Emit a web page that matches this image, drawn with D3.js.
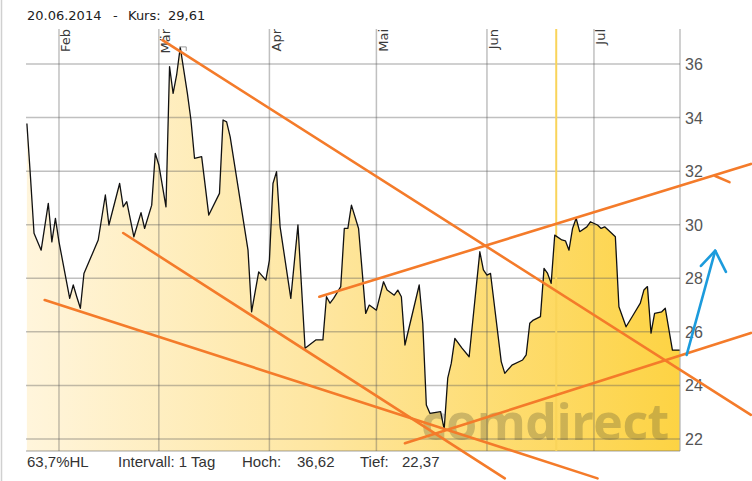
<!DOCTYPE html>
<html><head><meta charset="utf-8">
<script src="https://cdn.jsdelivr.net/npm/d3@7"></script>
<style>
body{margin:0;background:#fff}
svg{display:block}
</style></head><body>
<svg id="c" width="752" height="481"></svg>
<script>
// ---- data ----
const dates = ["2014-01-23","2014-01-24","2014-01-25","2014-01-27","2014-01-29","2014-01-30","2014-01-31","2014-02-01","2014-02-04","2014-02-05","2014-02-06","2014-02-07","2014-02-08","2014-02-10","2014-02-12","2014-02-14","2014-02-15","2014-02-18","2014-02-19","2014-02-20","2014-02-22","2014-02-24","2014-02-25","2014-02-27","2014-02-28","2014-03-01","2014-03-03","2014-03-04","2014-03-05","2014-03-06","2014-03-07","2014-03-09","2014-03-10","2014-03-11","2014-03-13","2014-03-15","2014-03-18","2014-03-19","2014-03-20","2014-03-21","2014-03-26","2014-03-27","2014-03-29","2014-03-31","2014-04-01","2014-04-02","2014-04-03","2014-04-04","2014-04-07","2014-04-09","2014-04-11","2014-04-14","2014-04-16","2014-04-17","2014-04-18","2014-04-19","2014-04-21","2014-04-22","2014-04-23","2014-04-24","2014-04-26","2014-04-28","2014-04-29","2014-05-01","2014-05-03","2014-05-04","2014-05-06","2014-05-07","2014-05-08","2014-05-09","2014-05-13","2014-05-14","2014-05-15","2014-05-16","2014-05-19","2014-05-20","2014-05-21","2014-05-22","2014-05-23","2014-05-25","2014-05-27","2014-05-29","2014-05-30","2014-05-31","2014-06-01","2014-06-02","2014-06-05","2014-06-06","2014-06-08","2014-06-11","2014-06-12","2014-06-13","2014-06-14","2014-06-16","2014-06-17","2014-06-18","2014-06-19","2014-06-20","2014-06-22","2014-06-23","2014-06-24","2014-06-25","2014-06-26","2014-06-27","2014-06-29","2014-06-30","2014-07-02","2014-07-03","2014-07-04","2014-07-05","2014-07-07","2014-07-08","2014-07-10","2014-07-12","2014-07-14","2014-07-15","2014-07-16","2014-07-17","2014-07-18","2014-07-20","2014-07-21","2014-07-23","2014-07-25"];
const prices = [33.78,31.79,29.68,29.05,30.80,29.36,30.24,29.36,27.25,27.75,27.30,26.88,28.18,28.80,29.43,31.11,29.99,31.54,30.67,30.86,29.55,30.45,29.86,30.73,32.66,32.23,30.67,35.90,34.90,35.60,36.62,34.90,33.91,32.48,32.54,30.36,31.17,33.91,33.84,33.28,29.05,26.75,28.24,27.93,28.68,31.54,31.98,29.92,27.25,29.99,25.39,25.70,25.70,27.31,27.07,27.25,27.69,29.86,29.86,30.73,29.86,26.69,27.00,26.81,27.87,27.56,27.37,27.56,27.31,25.51,27.75,26.32,23.27,22.96,23.02,22.37,24.27,24.83,25.76,25.39,25.07,27.69,28.99,28.31,28.12,28.18,24.89,24.45,24.76,24.95,25.14,26.32,26.44,26.57,28.37,28.18,27.81,29.61,29.43,29.40,29.05,29.86,30.24,29.74,29.92,30.11,29.99,29.86,29.92,29.80,29.55,26.94,26.19,26.63,27.07,27.56,27.69,25.95,26.69,26.75,26.88,25.32,25.32];
const monthTicks = ["2014-02-01","2014-03-01","2014-04-01","2014-05-01","2014-06-01","2014-07-01"];
const monthLabels = ["Feb","Mär","Apr","Mai","Jun","Jul"];
const yTicks = [22,24,26,28,30,32,34,36];
const markerDate = "2014-06-20";
const intervalLabel = "Intervall: 1 Tag";
// hand-drawn annotations, in data coordinates [date, value]
const orangeLines = [
  [["2014-03-02",36.89],["2014-08-14",22.90]],
  [["2014-04-15",27.31],["2014-08-14",32.27]],
  [["2014-08-04",31.82],["2014-08-08",31.59]],
  [["2014-05-09",21.84],["2014-08-14",25.96]],
  [["2014-02-19",29.69],["2014-06-06",20.53]],
  [["2014-01-28",27.19],["2014-07-02",20.53]]
];
const blueArrow = [["2014-07-27",25.14],["2014-08-04",29.03]];
const blueHead = [["2014-07-31",28.46],["2014-08-04",29.03],["2014-08-07",28.24]];

// ---- drawing ----
const parse = d3.timeParse("%Y-%m-%d");
const data = dates.map((d,i)=>({date:parse(d), v:prices[i]}));
const L = 26, R = 680, T = 29, B = 451;
const x = d3.scaleTime().domain([new Date(2014,0,22,18), new Date(2014,6,25,3)]).range([L, R]);
const y = d3.scaleLinear().domain([22,36]).range([439,64]);
const fmt = v => d3.format(".2f")(v).replace(".", ",");

const svg = d3.select("#c");
const defs = svg.append("defs");
const grad = defs.append("linearGradient").attr("id","g").attr("gradientUnits","userSpaceOnUse")
  .attr("x1",L).attr("x2",R).attr("y1",0).attr("y2",0);
grad.append("stop").attr("offset",0).attr("stop-color","#fff5dc");
grad.append("stop").attr("offset",0.45).attr("stop-color","#fee6a0");
grad.append("stop").attr("offset",1).attr("stop-color","#fdd343");

// outer frame line at left
svg.append("line").attr("x1",1.5).attr("x2",1.5).attr("y1",0).attr("y2",481).attr("stroke","#d0d0d0").attr("stroke-width",1.5);

// area
svg.append("path").datum(data)
  .attr("d", d3.area().x(d=>x(d.date)).y0(B).y1(d=>y(d.v)))
  .attr("fill","url(#g)");

// grid
const grid = svg.append("g").attr("stroke","rgba(90,90,90,0.38)").attr("stroke-width",1.5);
grid.selectAll(".h").data(yTicks).join("line")
  .attr("x1",L).attr("x2",R).attr("y1",d=>y(d)).attr("y2",d=>y(d));
grid.selectAll(".v").data(monthTicks).join("line")
  .attr("x1",d=>x(parse(d))).attr("x2",d=>x(parse(d))).attr("y1",T).attr("y2",B);
grid.append("line").attr("x1",L).attr("x2",R).attr("y1",B).attr("y2",B);
grid.append("line").attr("x1",R).attr("x2",R).attr("y1",T).attr("y2",B);

// marker line
const mx = x(parse(markerDate)) + 1.5;
svg.append("line").attr("x1",mx).attr("x2",mx).attr("y1",T).attr("y2",B)
  .attr("stroke","#f9d45a").attr("stroke-width",2);

// watermark
svg.append("text").attr("x",421).attr("y",440).text("comdirect")
  .attr("font-family","'Open Sans', sans-serif").attr("font-weight",700).attr("font-size",50)
  .attr("letter-spacing",-0.5)
  .attr("fill","#5e5536").attr("fill-opacity",0.3);

// price line
svg.append("path").datum(data)
  .attr("d", d3.line().x(d=>x(d.date)).y(d=>y(d.v)))
  .attr("fill","none").attr("stroke","#111").attr("stroke-width",1.3).attr("stroke-linejoin","round");

// high marker tick
const hi = data[d3.maxIndex(data,d=>d.v)];
svg.append("path").attr("d",`M${x(hi.date)-1},${y(hi.v)-0.5}h7v4`)
  .attr("fill","none").attr("stroke","#999").attr("stroke-width",1);

// month labels
svg.selectAll(".m").data(monthTicks).join("text")
  .attr("transform",d=>`translate(${x(parse(d))+11.5},${T})rotate(-90)`)
  .attr("text-anchor","end").text((d,i)=>monthLabels[i])
  .attr("font-family","'DejaVu Sans', sans-serif").attr("font-size",13).attr("fill","#3a3a3a");

// y labels
svg.selectAll(".yl").data(yTicks).join("text")
  .attr("x",R+5).attr("y",d=>y(d)+6).text(d=>d)
  .attr("font-family","'Liberation Sans', Arial, sans-serif").attr("font-size",16).attr("fill","#555");

// orange annotation lines
svg.append("g").selectAll("line").data(orangeLines).join("line")
  .attr("x1",d=>x(parse(d[0][0]))).attr("y1",d=>y(d[0][1]))
  .attr("x2",d=>x(parse(d[1][0]))).attr("y2",d=>y(d[1][1]))
  .attr("stroke","#f47b2a").attr("stroke-width",2.6).attr("stroke-linecap","round");

// blue arrow
const lp = d3.line().x(d=>x(parse(d[0]))).y(d=>y(d[1]));
svg.append("path").attr("d",lp(blueArrow)).attr("fill","none").attr("stroke","#1c9bdc").attr("stroke-width",2.6).attr("stroke-linecap","round");
svg.append("path").attr("d",lp(blueHead)).attr("fill","none").attr("stroke","#1c9bdc").attr("stroke-width",2.6).attr("stroke-linecap","round").attr("stroke-linejoin","round");

// header
const cur = data.find(d=>+d.date===+parse(markerDate));
const dfmt = d3.timeFormat("%d.%m.%Y");
const head = [
  [27, dfmt(parse(markerDate))],
  [113, "-"],
  [128, "Kurs:"],
  [168, fmt(cur.v)]
];
svg.selectAll(".hd").data(head).join("text")
  .attr("x",d=>d[0]).attr("y",19.5).text(d=>d[1])
  .attr("font-family","'DejaVu Sans', Verdana, sans-serif").attr("font-size",13).attr("fill","#222");

// footer
const hiV = d3.max(prices), loV = d3.min(prices);
const pct = d3.format(".1f")((hiV-loV)/loV*100).replace(".",",");
const foot = [
  [27, `${pct}%HL`],
  [118, intervalLabel],
  [242, "Hoch:"],
  [297, fmt(hiV)],
  [360, "Tief:"],
  [402, fmt(loV)]
];
svg.selectAll(".f").data(foot).join("text")
  .attr("x",d=>d[0]).attr("y",467).text(d=>d[1])
  .attr("font-family","'Liberation Sans', Arial, sans-serif").attr("font-size",15).attr("fill","#333");
</script>
</body></html>
